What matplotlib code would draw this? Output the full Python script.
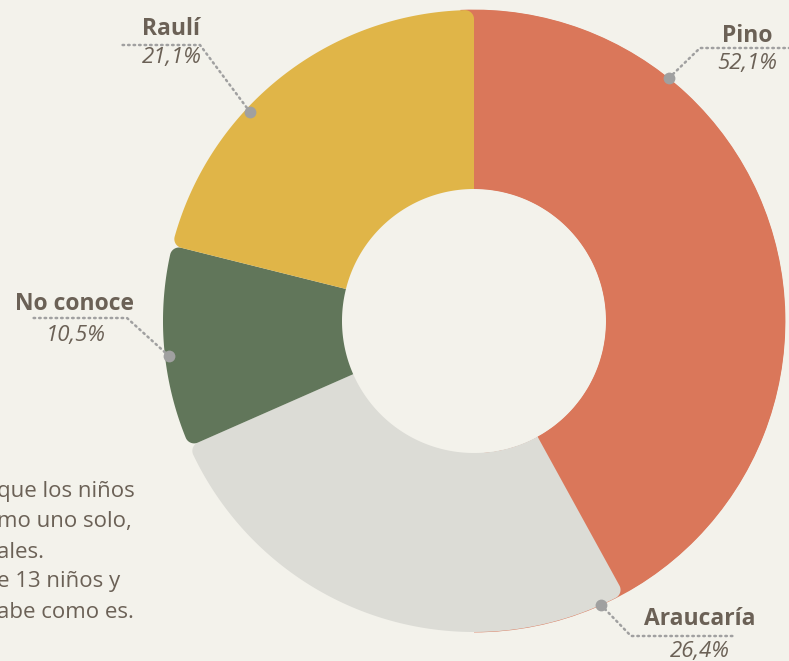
import matplotlib
matplotlib.use("Agg")
import matplotlib.pyplot as plt
from matplotlib.patches import Wedge, Polygon
import numpy as np

# ---- data ----
categories = ["Pino", "Araucaría", "No conoce", "Raulí"]
slice_values = [42.0, 26.4, 10.5, 21.1]          # slice sizes as drawn
shown_pct = [52.1, 26.4, 10.5, 21.1]             # percentages printed on labels
colors = ["#da775a", "#dcdcd6", "#61765a", "#e0b548"]
footnote_lines = ["que los niños", "mo uno solo,", "ales.", "e 13 niños y", "abe como es."]

BG = "#f3f2eb"
TXT = "#6b6156"
GREY = "#a0a0a0"
W, H = 789, 661

plt.rcParams['font.family'] = ['Open Sans', 'DejaVu Sans']

fig = plt.figure(figsize=(W / 100, H / 100), dpi=100, facecolor=BG)
ax = fig.add_axes([0, 0, 1, 1])
ax.set_facecolor(BG)

def Y(y):
    return H - y

cx, cy, R, r_in, rc = 474, Y(321), 311, 132, 9


def rounded_sector(ts, te, n=120):
    """Annular sector from ts down to te (degrees, clockwise) with rounded outer corners."""
    ts, te = np.radians(ts), np.radians(te)
    d = np.arcsin(rc / (R - rc))
    pts = []
    c = np.array([cx, cy]) + (R - rc) * np.array([np.cos(ts - d), np.sin(ts - d)])
    for f in np.linspace(ts + np.pi / 2, ts - d, 20):
        pts.append(c + rc * np.array([np.cos(f), np.sin(f)]))
    for t in np.linspace(ts - d, te + d, n):
        pts.append((cx + R * np.cos(t), cy + R * np.sin(t)))
    c = np.array([cx, cy]) + (R - rc) * np.array([np.cos(te + d), np.sin(te + d)])
    for f in np.linspace(te + d, te - np.pi / 2, 20):
        pts.append(c + rc * np.array([np.cos(f), np.sin(f)]))
    for t in np.linspace(te, ts, n):
        pts.append((cx + r_in * np.cos(t), cy + r_in * np.sin(t)))
    return np.array(pts)


# first slice's colour lying underneath (shows as a thin fringe / in corner notches)
ax.add_patch(Wedge((cx, cy), R + 0.4, -90, 92.5, width=R - r_in,
                   facecolor=colors[0], edgecolor="none", zorder=0.5))

total = sum(slice_values)
start = 90.0
for v, col in zip(slice_values, colors):
    end = start - 360.0 * v / total
    ax.add_patch(Polygon(rounded_sector(start, end), closed=True,
                         facecolor=col, edgecolor="none", zorder=1))
    start = end

ax.set_xlim(0, W)
ax.set_ylim(0, H)
ax.set_aspect('equal')
ax.axis('off')

# ---- labels (layout) ----
layout = {
    "Pino": dict(name=(747, 36), pct=(747, 64),
                 line=[(669, 78), (700, 48), (800, 48)]),
    "Raulí": dict(name=(171, 29), pct=(172, 58),
                  line=[(250, 112), (200, 45), (122, 45)]),
    "No conoce": dict(name=(75, 304), pct=(76, 336),
                      line=[(169, 356), (127, 318), (32, 318)]),
    "Araucaría": dict(name=(700, 619), pct=(700, 651),
                      line=[(601, 605), (631, 636), (733, 636)]),
}

for cat, pct in zip(categories, shown_pct):
    L = layout[cat]
    xs = [p[0] for p in L["line"]]
    ys = [Y(p[1]) for p in L["line"]]
    ax.plot(xs, ys, color=GREY, lw=1.8, linestyle=(0, (0.6, 1.6)),
            dash_capstyle="round", zorder=3)
    ax.plot(xs[0], ys[0], "o", color=GREY, ms=8.5, mec="none", zorder=4)
    ax.text(L["name"][0], Y(L["name"][1]), cat, ha="center", va="center",
            fontsize=16.5, fontweight="bold", color=TXT, zorder=5)
    ax.text(L["pct"][0], Y(L["pct"][1]), f"{pct:.1f}%".replace(".", ","),
            ha="center", va="center", fontsize=16, fontstyle="italic",
            color=TXT, zorder=5)

for i, line in enumerate(footnote_lines):
    ax.text(-3, Y(492 + 30 * i), line, ha="left", va="center",
            fontsize=16, color=TXT, zorder=5)

fig.savefig("out.png", dpi=100, facecolor=BG)
